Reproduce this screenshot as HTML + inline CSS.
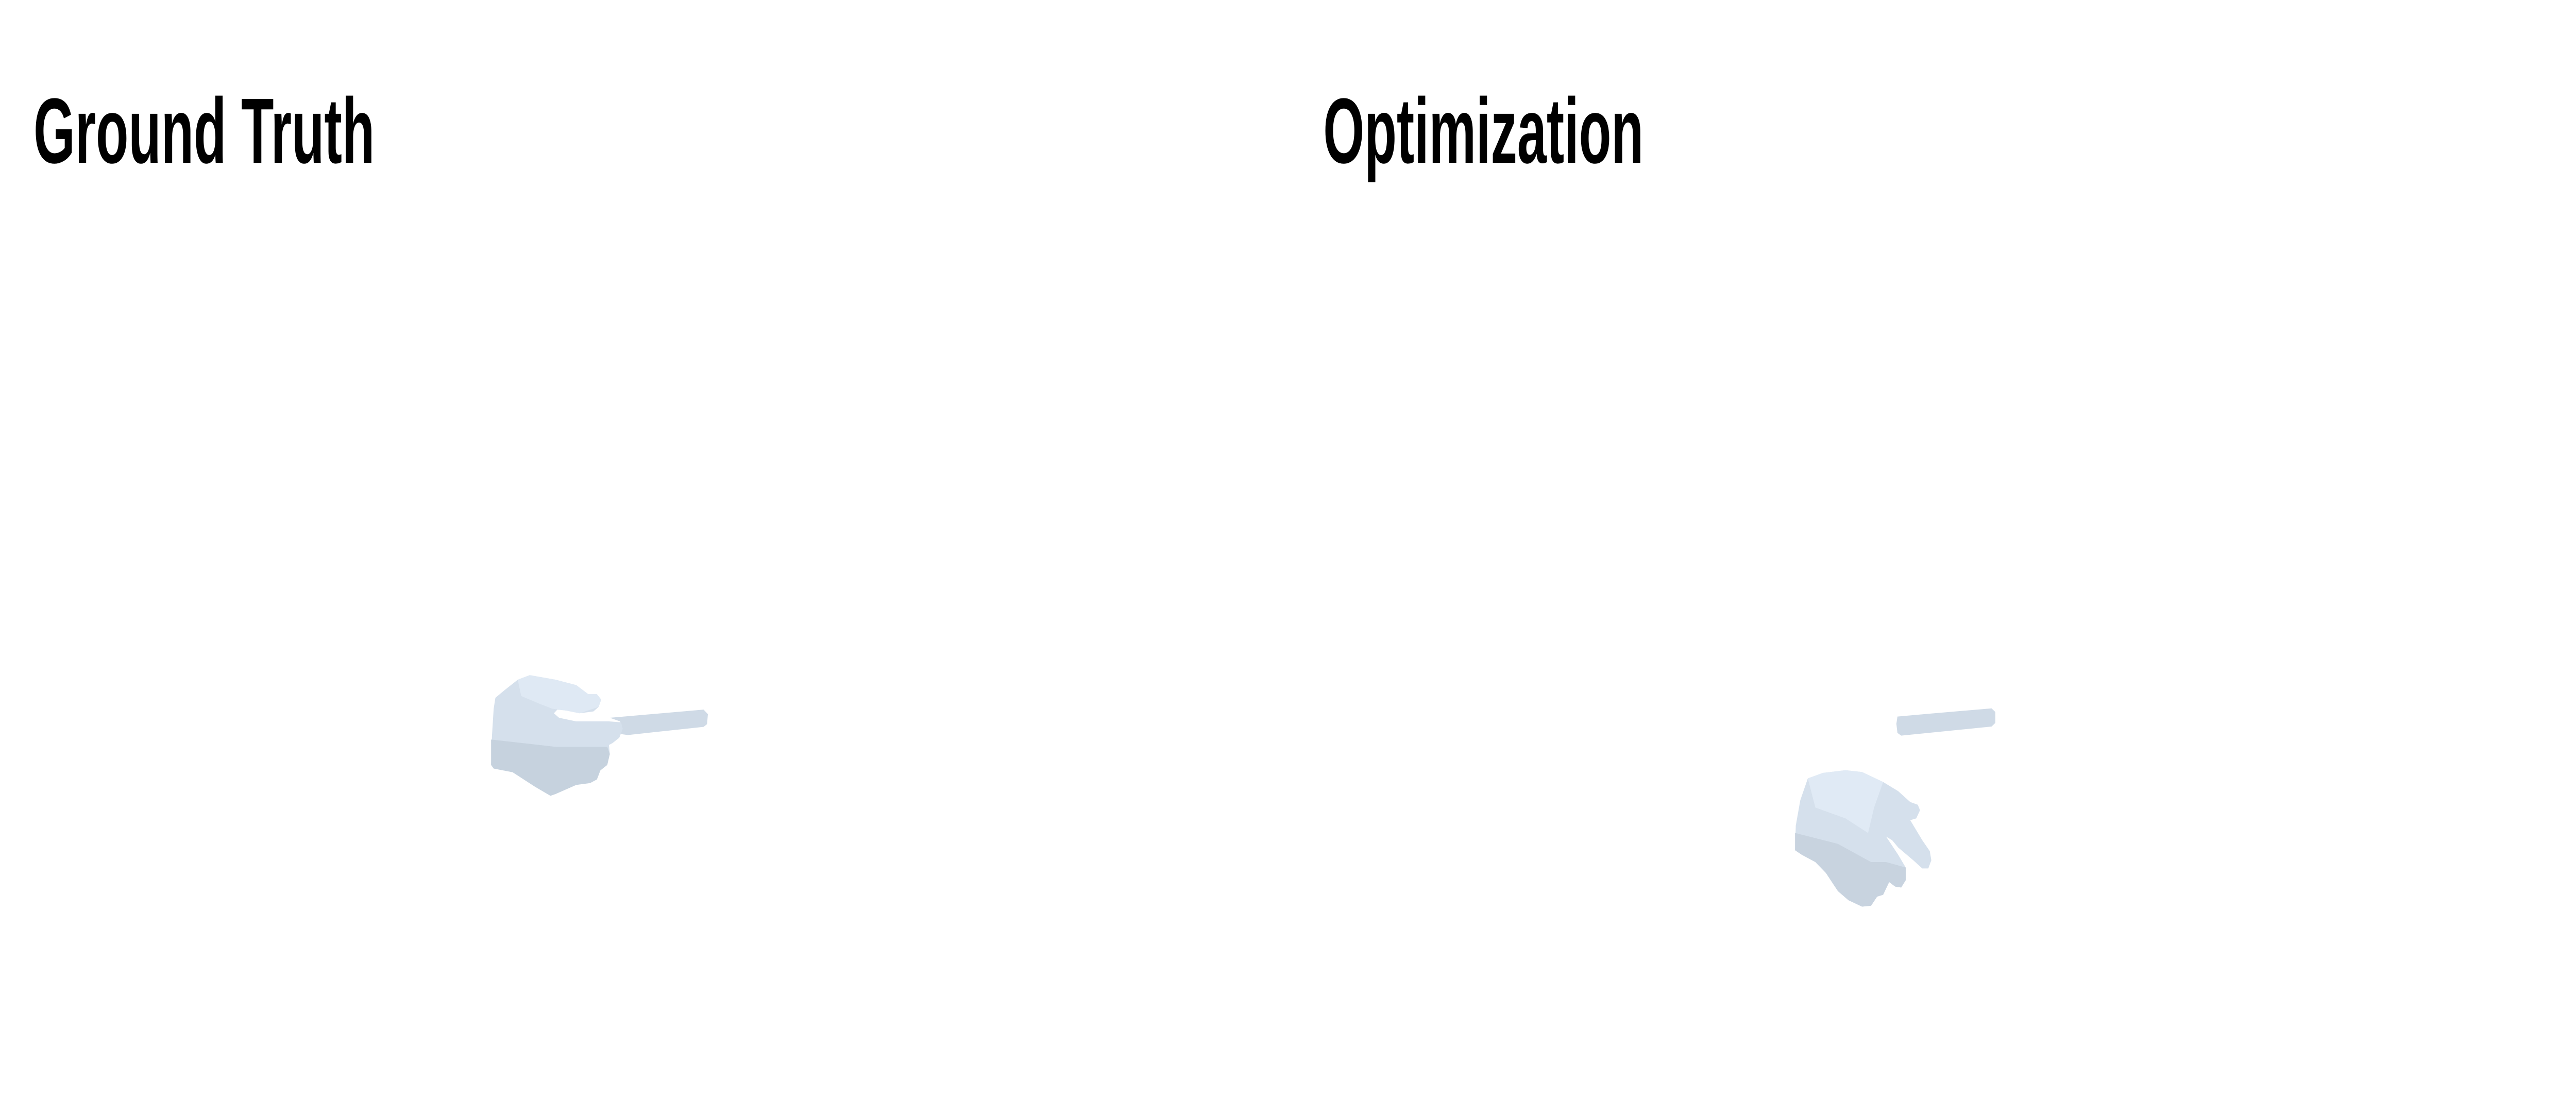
<!DOCTYPE html>
<html><head><meta charset="utf-8"><style>
html,body{margin:0;padding:0;background:#fff;width:100%;height:100%;overflow:hidden}
svg{display:block;width:100vw;height:100vh}
</style></head><body>
<svg viewBox="0 0 7680 2160" preserveAspectRatio="none">
<rect x="0" y="0" width="7680" height="2160" fill="#ffffff"/>
<text x="100" y="316" font-family="'Liberation Sans',sans-serif" font-weight="bold" font-size="180" textLength="1017" lengthAdjust="spacingAndGlyphs" fill="#000">Ground Truth</text>
<text x="3945" y="316" font-family="'Liberation Sans',sans-serif" font-weight="bold" font-size="180" textLength="955" lengthAdjust="spacingAndGlyphs" fill="#000">Optimization</text>

<g transform="translate(1400,1217) scale(0.513,0.352)">
  <polygon fill="#cfdae6" points="815,500 1360,455 1385,480 1380,535 1360,550 920,595 880,590 875,520"/>
  <polygon fill="#d5e0ec" points="150,390 200,350 280,290 350,265 500,290 620,320 690,370 740,370 765,400 750,440 720,465 640,475 560,460 510,455 490,475 520,500 620,520 810,520 880,525 890,560 870,610 830,640 810,650 815,700 800,760 760,790 740,840 700,860 620,870 500,920 470,930 380,880 250,800 140,780 125,760 130,600 140,450"/>
  <polygon fill="#c6d2de" points="125,620 500,660 800,660 815,700 800,760 760,790 740,840 700,860 620,870 500,920 470,930 380,880 250,800 140,780 125,760"/>
  <polygon fill="#dfe9f4" points="280,290 350,265 500,290 620,320 690,370 740,370 765,400 750,440 640,475 560,460 480,450 400,420 300,380"/>
</g>

<g transform="translate(5300,1320) scale(0.449,0.353)">
  <polygon fill="#cfdae6" points="795,200 1000,185 1420,155 1445,175 1445,235 1420,255 820,305 795,290 788,240"/>
  <polygon fill="#d5e0ec" points="200,540 300,510 450,495 560,505 700,560 800,610 880,670 930,685 945,715 920,760 880,770 960,880 1010,940 1020,990 1000,1035 960,1035 900,990 800,920 760,880 720,860 800,960 850,1030 850,1100 820,1140 780,1135 740,1110 700,1180 660,1190 620,1240 560,1245 470,1210 400,1160 320,1060 250,1000 160,960 115,935 120,800 150,660"/>
  <polygon fill="#c8d3df" points="115,840 400,900 620,1000 720,1000 850,1030 850,1100 820,1140 780,1135 740,1110 700,1180 660,1190 620,1240 560,1245 470,1210 400,1160 320,1060 250,1000 160,960 115,935"/>
  <polygon fill="#e0eaf5" points="200,540 300,510 450,495 560,505 700,560 640,700 600,840 450,760 250,700"/>
</g>
</svg>
</body></html>
